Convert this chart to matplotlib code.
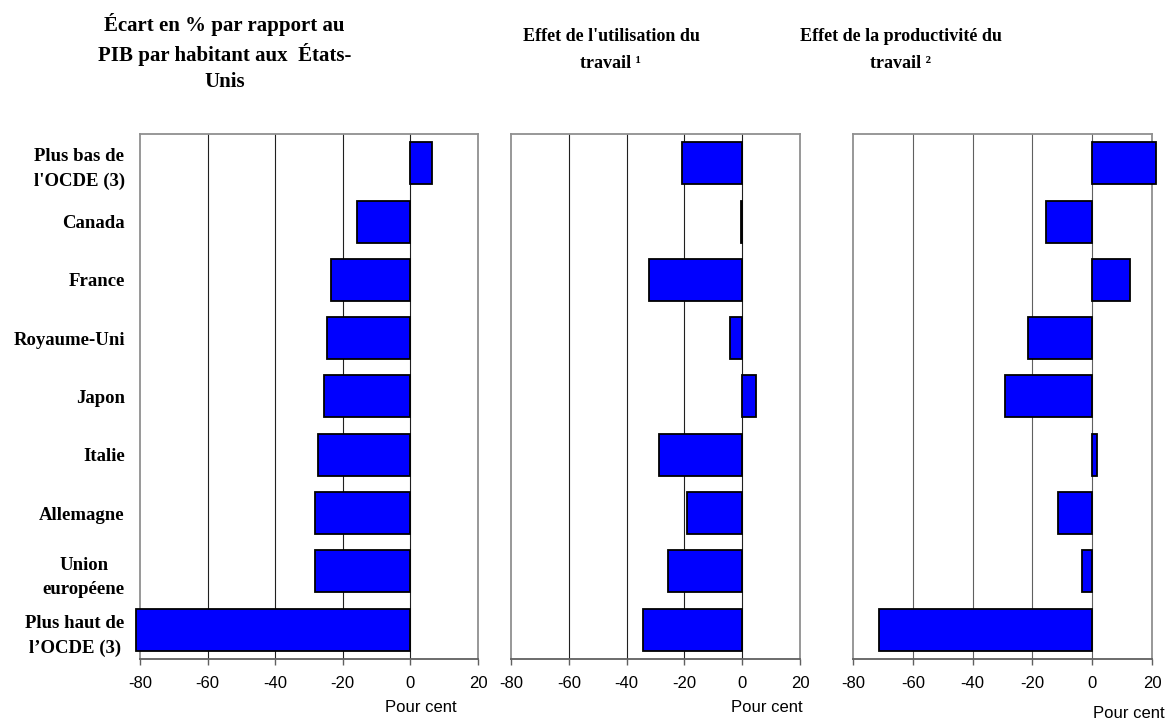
import numpy as np
import matplotlib.pyplot as plt

# Categories (top to bottom)
pays = ["Plus bas de\nl'OCDE (3)", "Canada", "France", "Royaume-Uni", "Japon",
        "Italie", "Allemagne", "Union\neuropéene", "Plus haut de\nl\u2019OCDE (3)"]

# Values (per cent)
ecart_pib = [6.4, -15.7, -23.6, -24.6, -25.7, -27.3, -28.1, -28.2, -81.2]
effet_utilisation = [-20.9, -0.3, -32.1, -4.2, 4.9, -28.7, -19.0, -25.6, -34.4]
effet_productivite = [21.5, -15.5, 12.6, -21.4, -29.2, 1.7, -11.4, -3.5, -71.2]

titres = ["Écart en % par rapport au\nPIB par habitant aux  États-\nUnis",
          "Effet de l'utilisation du\ntravail \u00b9",
          "Effet de la productivité du\ntravail \u00b2"]
ticks = [-80, -60, -40, -20, 0, 20]

W, H = 1165, 720
fig = plt.figure(figsize=(W / 100, H / 100), dpi=100)
plt.rcParams['font.family'] = ['Liberation Sans', 'DejaVu Sans']
serif = ['Liberation Serif', 'DejaVu Serif']

# axes boxes in pixels: left, right
boites = [(140, 478), (511, 800), (853, 1152)]
top_px, bot_px = 134, 659
grid_colors = ['#202020', '#202020', '#606060']
# title block centre (pixels), font size, line spacing
titre_pos = [(224.5, 52.5), (611, 50), (901, 50)]
titre_size = [15, 13, 13]
titre_ls = [1.37, 1.7, 1.7]
pour_cent_pos = [(421, 708), (767, 708), (1129, 713)]

series = [ecart_pib, effet_utilisation, effet_productivite]
y = np.arange(len(pays))

for i, (vals, (l, r)) in enumerate(zip(series, boites)):
    ax = fig.add_axes([l / W, 1 - bot_px / H, (r - l) / W, (bot_px - top_px) / H])
    ax.set_xlim(-80, 20)
    ax.set_ylim(len(pays) - 0.5, -0.5)
    for g in [-60, -40, -20, 0]:
        ax.axvline(g, color=grid_colors[i], lw=0.8, zorder=1)
    ax.barh(y, vals, height=0.72, color='#0000FF', edgecolor='black',
            linewidth=1.3, zorder=3, clip_on=False)
    for s in ['top', 'left', 'right']:
        ax.spines[s].set_color('#909090')
        ax.spines[s].set_linewidth(1.3)
    ax.spines['bottom'].set_color('#606060')
    ax.spines['bottom'].set_linewidth(1.3)
    ax.set_xticks(ticks)
    ax.set_xticklabels([str(t) for t in ticks], fontsize=12)
    ax.tick_params(axis='x', direction='out', length=4, width=1, color='#606060', pad=8)
    if i == 0:
        ax.set_yticks(y)
        ax.set_yticklabels(pays, fontsize=13.5, fontweight='bold', family=serif,
                           multialignment='center', linespacing=1.6)
        ax.tick_params(axis='y', length=0, pad=11)
    else:
        ax.set_yticks([])

    tx, ty = titre_pos[i]
    fig.text(tx / W, 1 - ty / H, titres[i], ha='center', va='center',
             fontsize=titre_size[i], fontweight='bold', family=serif,
             linespacing=titre_ls[i])
    px, py = pour_cent_pos[i]
    fig.text(px / W, 1 - py / H, "Pour cent", ha='center', va='center', fontsize=12)

fig.savefig('out.png', dpi=100)
